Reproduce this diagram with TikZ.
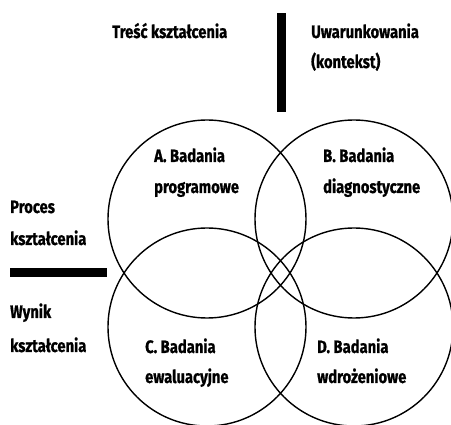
\documentclass[tikz,border=0pt]{standalone}
\usepackage{fontspec}
\setmainfont{Fira Sans}[FakeStretch=0.82,BoldFeatures={FakeStretch=0.82,FakeBold=0.8}]
\begin{document}
\begin{tikzpicture}[x=1pt,y=-1pt,
  lbl/.style={anchor=base west,inner sep=0pt,font=\fontsize{18}{20}\selectfont\bfseries},
  ring/.style={draw=black,line width=1.4pt},
  barfill/.style={fill=black}]
\useasboundingbox (0,0) rectangle (451,425);
\begin{scope}
\clip (0,0) rectangle (451,425);
\node[ring,circle,minimum size=198pt,inner sep=0pt] (A) at (207,219) {};
\node[ring,circle,minimum size=198pt,inner sep=0pt] (B) at (354,219) {};
\node[ring,circle,minimum size=198pt,inner sep=0pt] (C) at (207,327) {};
\node[ring,circle,minimum size=198pt,inner sep=0pt] (D) at (354,327) {};
\end{scope}
\fill[barfill] (277,13) rectangle (286,112.5);
\fill[barfill] (10,268) rectangle (107,277);
\node[lbl] (t1) at (112,38) {Treść kształcenia};
\node[lbl] (t2) at (311,38) {Uwarunkowania};
\node[lbl] (t3) at (311,68) {(kontekst)};
\node[lbl] (a1) at (154,162) {A. Badania};
\node[lbl] (a2) at (154,193) {programowe};
\node[lbl] (b1) at (323,162) {B. Badania};
\node[lbl] (b2) at (323,193) {diagnostyczne};
\node[lbl] (p1) at (10,213) {Proces};
\node[lbl] (p2) at (10,245) {kształcenia};
\node[lbl] (w1) at (10,318) {Wynik};
\node[lbl] (w2) at (10,352) {kształcenia};
\node[lbl] (c1) at (145,353) {C. Badania};
\node[lbl] (c2) at (145,383) {ewaluacyjne};
\node[lbl] (d1) at (317,353) {D. Badania};
\node[lbl] (d2) at (317,383) {wdrożeniowe};
\end{tikzpicture}
\end{document}
